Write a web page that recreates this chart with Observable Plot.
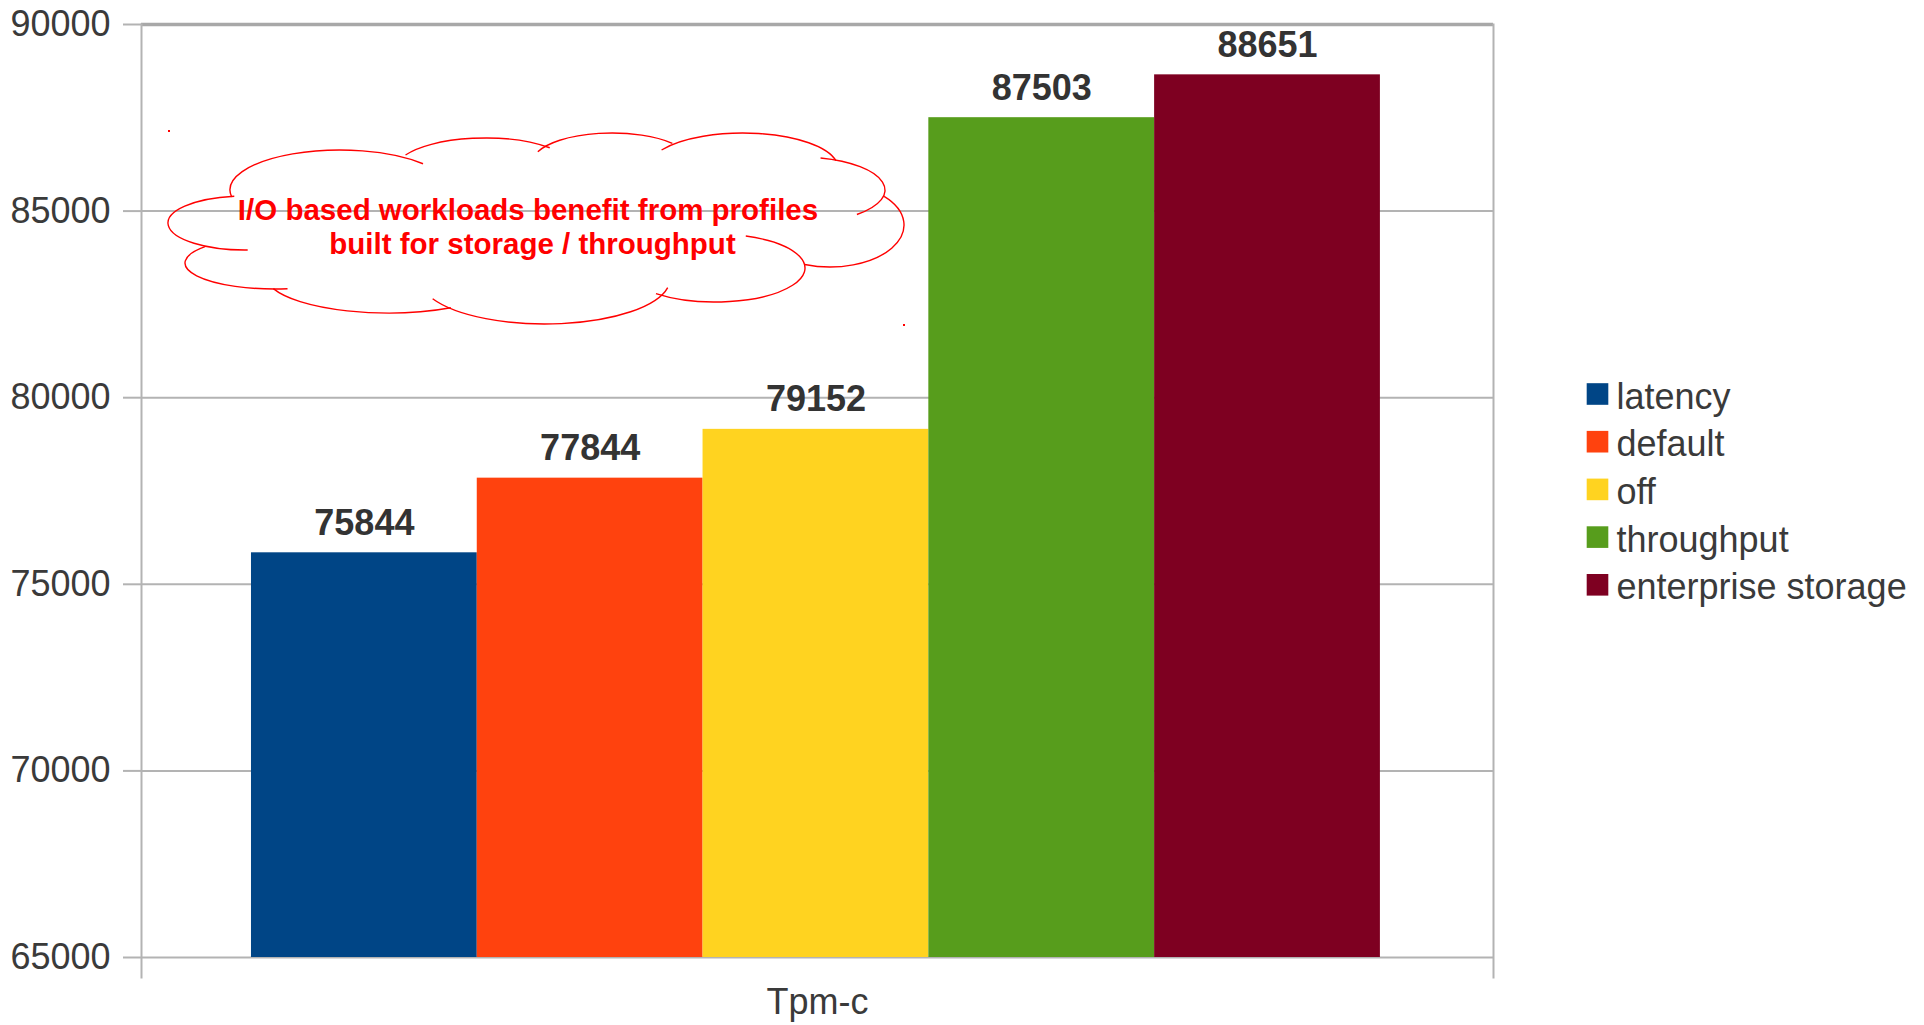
<!DOCTYPE html>
<html>
<head>
<meta charset="utf-8">
<script src="https://cdn.jsdelivr.net/npm/d3@7"></script>
<script src="https://cdn.jsdelivr.net/npm/@observablehq/plot@0.6"></script>
<style>
  html, body { margin: 0; padding: 0; background: #ffffff; }
  #chart svg { display: block; }
</style>
</head>
<body>
<div id="chart"></div>
<script>
// Tuned profiles and their measured throughput (Tpm-c)
const profiles = ["latency", "default", "off", "throughput", "enterprise storage"];
const tpmc = [75844, 77844, 79152, 87503, 88651];
const profileColors = ["#004586", "#ff420e", "#ffd320", "#579d1c", "#7e0021"];
const yTicks = [65000, 70000, 75000, 80000, 85000, 90000];
const yDomain = [65000, 90000];
const categoryLabel = "Tpm-c";
const calloutLines = ["I/O based workloads benefit from profiles", "built for storage / throughput"];

const rows = profiles.map((profile, i) => ({profile, value: tpmc[i]}));

const W = 1924, H = 1025;
const M = {left: 141, right: 431, top: 24, bottom: 68};
const gridColor = "#b3b3b3";
const textColor = "#3a3a3a";
const fontSize = 36;

// Cloud callout: elliptical lobes [cx, cy, rx, ry, startDeg, endDeg] in page pixels
const cloudLobes = [
  [340, 190, 110, 40, 170, 319],
  [485, 170, 90, 32, 208, 316],
  [612, 163, 80, 30, 202, 319],
  [743, 168, 95, 35, 211, 348],
  [800, 190, 85, 33, 284, 408],
  [830, 225, 74, 42, 317, 470],
  [715, 268, 90, 34, 290, 491],
  [545, 279, 125, 45, 11, 154],
  [388, 276, 122, 37, 59, 160],
  [275, 263, 90, 26, 82, 219],
  [245, 223, 77, 27, 88, 262]
];

function cloudMark(index, scales, values, dimensions) {
  const g = d3.create("svg:g").attr("fill", "none").attr("stroke", "#ff0000").attr("stroke-width", 1.4);
  const rad = Math.PI / 180;
  for (const [cx, cy, rx, ry, a0, a1] of cloudLobes) {
    const x0 = cx + rx * Math.cos(a0 * rad), y0 = cy + ry * Math.sin(a0 * rad);
    const x1 = cx + rx * Math.cos(a1 * rad), y1 = cy + ry * Math.sin(a1 * rad);
    const large = (a1 - a0) > 180 ? 1 : 0;
    g.append("path").attr("d", `M${x0},${y0}A${rx},${ry} 0 ${large} 1 ${x1},${y1}`);
  }
  // selection handles at the callout's corners
  g.append("rect").attr("x", 168).attr("y", 130).attr("width", 2).attr("height", 2).attr("fill", "#ff0000").attr("stroke", "none");
  g.append("rect").attr("x", 903).attr("y", 324).attr("width", 2).attr("height", 2).attr("fill", "#ff0000").attr("stroke", "none");
  return g.node();
}

// Legend entries, drawn in the right margin with the shared color scale
const legendMarks = profiles.flatMap((p, i) => [
  Plot.dot([p], {
    frameAnchor: "top-left", dx: 1597 - M.left, dy: 393.5 + i * 47.7 - M.top,
    symbol: "square", r: 12.2, fill: d => d, stroke: null
  }),
  Plot.text([p], {
    frameAnchor: "top-left", dx: 1616 - M.left, dy: 396.5 + i * 47.7 - M.top,
    text: d => d, textAnchor: "start", lineAnchor: "middle", fontSize, fill: textColor
  })
]);

const chart = Plot.plot({
  width: W,
  height: H,
  marginLeft: M.left,
  marginRight: M.right,
  marginTop: M.top,
  marginBottom: M.bottom,
  style: {fontFamily: "'Liberation Sans', Arial, sans-serif", background: "#ffffff", overflow: "visible"},
  x: {domain: profiles, paddingInner: 0, paddingOuter: 0.494, align: 0.493, round: false, axis: null},
  y: {domain: yDomain, axis: null},
  color: {domain: profiles, range: profileColors},
  marks: [
    Plot.ruleY(yTicks.filter(t => t !== yDomain[1]), {stroke: gridColor, strokeWidth: 2}),
    Plot.ruleY([yDomain[1]], {stroke: "#a8a8a8", strokeWidth: 3.5}),
    Plot.axisY({
      ticks: yTicks, tickSize: 18, tickPadding: 13, tickFormat: d => String(d),
      stroke: gridColor, strokeWidth: 2, fill: textColor, fontSize, label: null
    }),
    Plot.frame({anchor: "left", insetBottom: -20, stroke: gridColor, strokeWidth: 2}),
    Plot.frame({anchor: "right", insetBottom: -20, stroke: gridColor, strokeWidth: 2}),
    Plot.barY(rows, {x: "profile", y1: yDomain[0], y2: "value", fill: "profile", insetLeft: 0, insetRight: 0}),
    Plot.text(rows, {
      x: "profile", y: "value", text: d => String(d.value),
      dy: -18, lineAnchor: "bottom", fontSize, fontWeight: "bold", fill: "#333333"
    }),
    Plot.text([categoryLabel], {
      frameAnchor: "bottom", dy: 45, text: d => d, lineAnchor: "middle", fontSize, fill: textColor
    }),
    cloudMark,
    Plot.text([calloutLines[0]], {
      frameAnchor: "top-left", dx: 527.5 - M.left, dy: 219 - M.top, text: d => d,
      textAnchor: "middle", lineAnchor: "bottom", fontSize: 29.5, fontWeight: "bold", fill: "#ff0000"
    }),
    Plot.text([calloutLines[1]], {
      frameAnchor: "top-left", dx: 532 - M.left, dy: 253 - M.top, text: d => d,
      textAnchor: "middle", lineAnchor: "bottom", fontSize: 29.5, fontWeight: "bold", fill: "#ff0000"
    }),
    ...legendMarks
  ]
});

document.getElementById("chart").appendChild(chart);
</script>
</body>
</html>
